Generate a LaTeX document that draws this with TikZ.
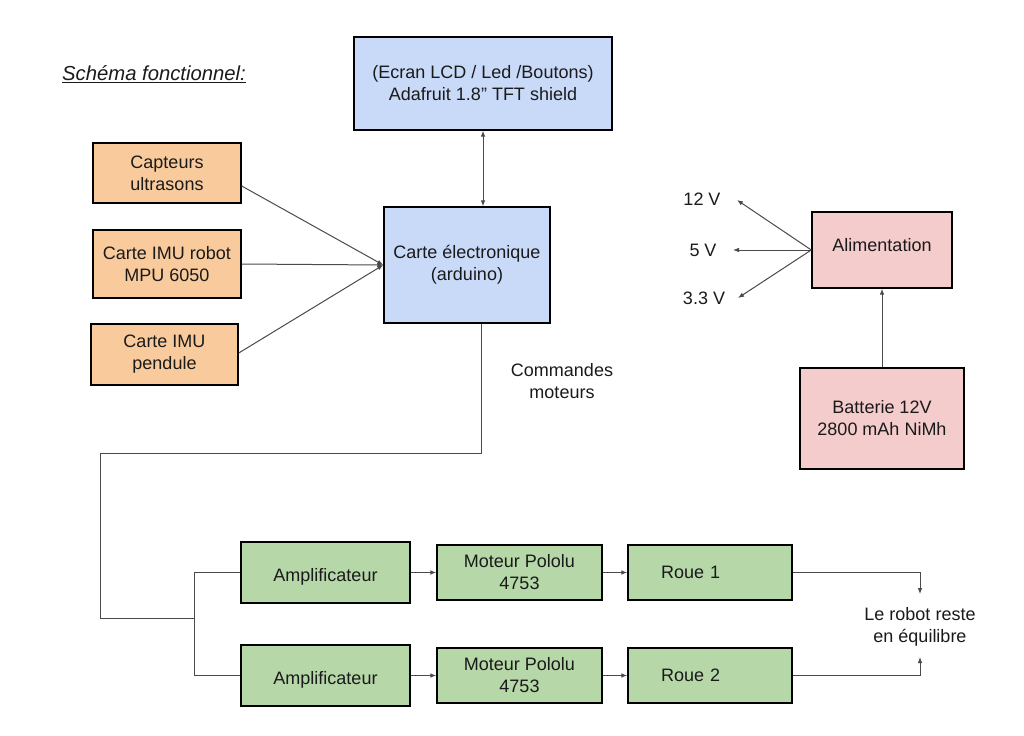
\documentclass[tikz,border=0pt]{standalone}
\usepackage{fontspec}
\setmainfont{Liberation Sans}
\usetikzlibrary{arrows.meta,calc}
\definecolor{cblue}{HTML}{C9DAF8}
\definecolor{corange}{HTML}{F9CB9C}
\definecolor{cpink}{HTML}{F4CCCC}
\definecolor{cgreen}{HTML}{B6D7A8}
\definecolor{ctext}{HTML}{1A1A1A}
\definecolor{cline}{HTML}{4A4A4A}
\begin{document}
\begin{tikzpicture}[x=0.75pt,y=-0.75pt,
  box/.style={draw=black, line width=1.1pt, align=center, inner sep=0pt, text=ctext,
    font=\fontsize{13.5}{16.5}\selectfont},
  lbl/.style={align=center, inner sep=0pt, text=ctext, font=\fontsize{13.5}{16.5}\selectfont},
  conn/.style={draw=cline, line width=0.75pt},
  arr/.style={conn, -{Latex[length=4.5pt,width=3.5pt]}},
  darr/.style={conn, {Latex[length=4.5pt,width=3.5pt]}-{Latex[length=4.5pt,width=3.5pt]}}
]
\useasboundingbox (0,0) rectangle (1024,735);

\node[inner sep=0pt, text=ctext, font=\fontsize{15.2}{18}\selectfont\itshape] (title) at (154,74) {\underline{Schéma fonctionnel:}};

\node[box, fill=cblue, minimum width=193.5pt, minimum height=69.75pt] (lcd) at (483,83.5) {(Ecran LCD / Led /Boutons)\\Adafruit 1.8” TFT shield};
\node[box, fill=cblue, minimum width=124.5pt, minimum height=87pt] (ard) at (467,265) {Carte électronique\\(arduino)};

\node[box, fill=corange, minimum width=111pt, minimum height=45pt] (cap) at (167,173) {Capteurs\\ultrasons};
\node[box, fill=corange, minimum width=111pt, minimum height=51pt] (imu1) at (167,264) {Carte IMU robot\\MPU 6050};
\node[box, fill=corange, minimum width=110.25pt, minimum height=45.75pt] (imu2) at (164.5,354.5) {Carte IMU\\pendule};

\node[box, fill=cpink, minimum width=105pt, minimum height=57pt] (alim) at (882,250) {\raisebox{-0.75pt}[0pt][0pt]{Alimentation}};
\node[box, fill=cpink, minimum width=123pt, minimum height=75.75pt] (bat) at (882,418.5) {Batterie 12V\\2800 mAh NiMh};

\node[box, fill=cgreen, minimum width=126.75pt, minimum height=45.75pt] (amp1) at (325.5,572.5) {\raisebox{-7.1pt}[0pt][0pt]{Amplificateur}};
\node[box, fill=cgreen, minimum width=126.75pt, minimum height=45.75pt] (amp2) at (325.5,675.5) {\raisebox{-7.1pt}[0pt][0pt]{Amplificateur}};
\node[box, fill=cgreen, minimum width=123.75pt, minimum height=41.25pt] (mot1) at (519.5,572.5) {Moteur Pololu\\4753};
\node[box, fill=cgreen, minimum width=123.75pt, minimum height=41.25pt] (mot2) at (519.5,675.5) {Moteur Pololu\\4753};
\node[box, fill=cgreen, minimum height=41.25pt, inner xsep=24.75pt, text width=73.5pt, align=left] (roue1) at (710,572.5) {Roue 1};
\node[box, fill=cgreen, minimum height=41.25pt, inner xsep=24.75pt, text width=73.5pt, align=left] (roue2) at (710,675.5) {Roue 2};

\node[lbl] (cmd) at (562,381) {Commandes\\moteurs};
\node[lbl] (robot) at (920,626.5) {Le robot reste\\en équilibre};

\node[lbl] (v12) at (702,199) {12 V};
\node[lbl] (v5) at (703,250) {5 V};
\node[lbl] (v33) at (704,298) {3.3 V};
\coordinate (t12) at (737,200);
\coordinate (t5) at (733,250);
\coordinate (t33) at (738,298);

% connectors
\draw[darr] (lcd.south) -- (lcd.south |- ard.north);
\draw[arr] ($(cap.east)+(0,13)$) -- (ard.west);
\draw[arr] (imu1.east) -- (ard.west);
\draw[arr] ($(imu2.east)+(0,-1.5)$) -- (ard.west);

\draw[arr] (alim.west) -- (t12);
\draw[arr] (alim.west) -- (t5);
\draw[arr] (alim.west) -- (t33);
\draw[arr] (bat) -- (alim);

\coordinate (c1) at (100.7,453);
\coordinate (j) at (194,618);
\draw[conn] ($(ard.south)+(14,0)$) |- (c1) |- (j);
\draw[conn] (j) |- (amp1.west);
\draw[conn] (j) |- (amp2.west);

\draw[arr] (amp1) -- (mot1);
\draw[arr] (mot1) -- (roue1);
\draw[arr] (amp2) -- (mot2);
\draw[arr] (mot2) -- (roue2);

\coordinate (r1) at (920,594);
\coordinate (r2) at (920,657);
\draw[arr] (roue1.east) -| (r1);
\draw[arr] (roue2.east) -| (r2);
\end{tikzpicture}
\end{document}
